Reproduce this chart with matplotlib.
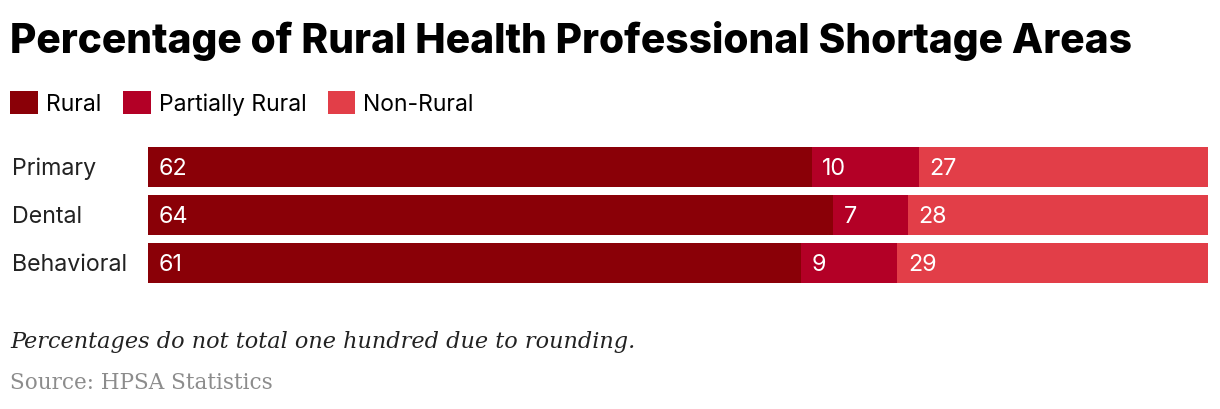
import matplotlib
matplotlib.use("Agg")
import matplotlib.pyplot as plt
from matplotlib.patches import Patch

CATEGORIES = ["Primary", "Dental", "Behavioral"]
SERIES = ["Rural", "Partially Rural", "Non-Rural"]
RURAL = [62, 64, 61]
PARTIAL = [10, 7, 9]
NON_RURAL = [27, 28, 29]
COLORS = ["#8a0007", "#b30026", "#e23e48"]

TITLE = "Percentage of Rural Health Professional Shortage Areas"
NOTE = "Percentages do not total one hundred due to rounding."
SOURCE = "Source: HPSA Statistics"

W, H = 1220, 410
fig = plt.figure(figsize=(W / 100, H / 100), dpi=100)

# axes placed to line up with the bar block in the reference
ax = fig.add_axes([148 / W, 1 - 284 / H, (1208 - 148) / W, 136 / H])

y = list(range(len(CATEGORIES)))
left = [0] * len(CATEGORIES)
for vals, color in zip([RURAL, PARTIAL, NON_RURAL], COLORS):
    ax.barh(y, vals, left=left, height=40 / 48, color=color, linewidth=0)
    for yi, v, l in zip(y, vals, left):
        ax.annotate(str(v), (l, yi), xytext=(7.5, -0.5), textcoords="offset points",
                    va="center", ha="left", color="white", fontsize=16.8,
                    family="Inter")
    left = [a + b for a, b in zip(left, vals)]

ax.set_xlim(0, max(left))
ax.set_ylim(len(CATEGORIES) - 0.5 - 0.0833, -0.5 + 0.0833)
ax.axis("off")

for yi, cat in zip(y, CATEGORIES):
    ax.annotate(cat, (0, yi), xycoords=("figure fraction", "data"),
                xytext=(12 / W, -0.5), textcoords=("figure fraction", "offset points"),
                va="center", ha="left", fontsize=16.7, family="Inter", color="#222222")

fig.text(10 / W, 1 - 41 / H, TITLE, fontsize=29.3, fontweight=800,
         family="Inter", va="center", ha="left", color="black")

handles = [Patch(facecolor=c, edgecolor="none") for c in COLORS]
fig.legend(handles, SERIES, loc="center left", bbox_to_anchor=(-1 / W, 1 - 104 / H),
           ncol=3, frameon=False, handlelength=1.2, handleheight=1.2,
           handletextpad=0.35, columnspacing=0.95, borderpad=0,
           prop={"family": "Inter", "size": 16.5})

fig.text(10 / W, 1 - 342 / H, NOTE, fontsize=16.1, style="italic",
         family="DejaVu Serif", va="center", ha="left", color="#222222")
fig.text(10 / W, 1 - 383 / H, SOURCE, fontsize=15.5,
         family="DejaVu Serif", va="center", ha="left", color="#8c8c8c")

fig.savefig("out.png", dpi=100)
